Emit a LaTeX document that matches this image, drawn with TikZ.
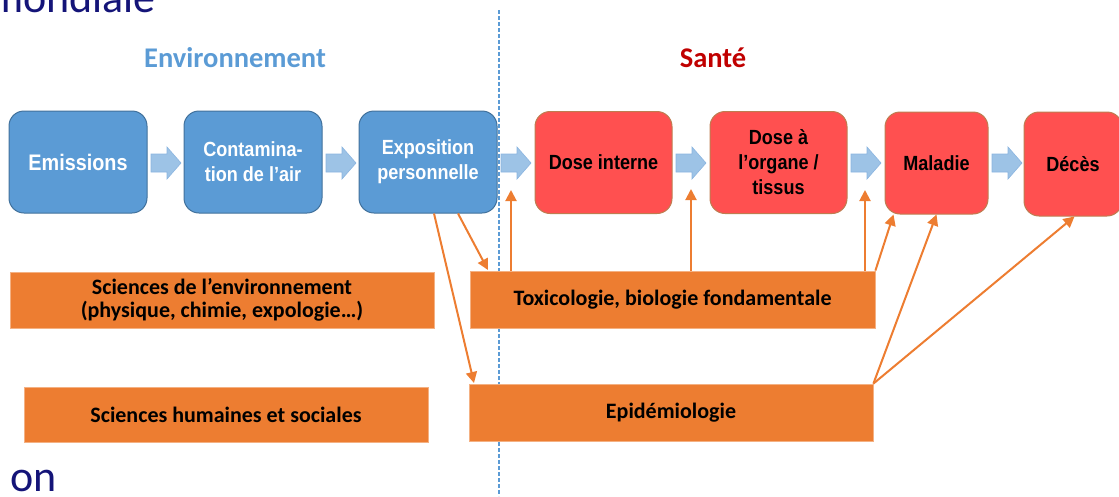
\documentclass[tikz,border=0pt]{standalone}
\usepackage{fontspec}
\setmainfont{Carlito}
\newfontfamily\arialfont[FakeStretch=0.88]{Liberation Sans}
\usetikzlibrary{arrows.meta,calc}
\definecolor{boxblue}{HTML}{5B9BD5}
\definecolor{boxblueline}{HTML}{41719C}
\definecolor{boxred}{HTML}{FF5050}
\definecolor{boxredline}{RGB}{190,125,80}
\definecolor{orng}{HTML}{ED7D31}
\definecolor{orngline}{HTML}{F4B183}
\definecolor{chevfill}{HTML}{9DC3E6}
\definecolor{chevline}{HTML}{8AB4E0}
\definecolor{navytext}{RGB}{20,20,120}
\definecolor{santecol}{HTML}{C00000}
\definecolor{dashcol}{RGB}{91,155,213}
\begin{document}
\begin{tikzpicture}[x=1pt,y=-1pt,
 stepbox/.style={rounded corners=15pt, line width=1pt, minimum height=102pt, align=center, font=\arialfont\bfseries\fontsize{20.5}{25}\selectfont, inner sep=0pt},
 bluebox/.style={stepbox, fill=boxblue, draw=boxblueline, text=white, minimum width=138pt},
 redbox/.style={stepbox, fill=boxred, draw=boxredline, text=black},
 discbox/.style={fill=orng, draw=orngline, line width=0.8pt, minimum height=56pt, align=center, font=\bfseries\fontsize{22}{23}\selectfont, inner sep=0pt},
 link/.style={draw=orng, line width=2pt, -{Triangle[length=11pt,width=11pt]}},
 chevron/.style={fill=chevfill, draw=chevline, line width=0.6pt},
 titletext/.style={font=\bfseries\fontsize{28.5}{32}\selectfont, anchor=base, inner sep=0pt},
 partial/.style={text=navytext, font=\fontsize{44}{50}\selectfont, anchor=base east, inner sep=0pt},
 chev/.pic={\path[chevron] (0,-9) -- (16,-9) -- (16,-16) -- (30,0) -- (16,16) -- (16,9) -- (0,9) -- cycle;}
]
\useasboundingbox (0,0) rectangle (1119,496);
\clip (0,0) rectangle (1119,496);

% partial slide texts
\node[partial] (mond) at (156,12) {mondiale};
\node[partial] (onn) at (57,491) {on};

% separator
\draw[dashcol, line width=1.2pt, dash pattern=on 4pt off 2pt] (499,10) -- (499,496);

% titles
\node[titletext, text=boxblue] (envt) at (235,67) {Environnement};
\node[titletext, text=santecol] (sant) at (713,67) {Santé};

% chain boxes
\node[bluebox, font=\arialfont\bfseries\fontsize{22.5}{25}\selectfont] (emi) at (78,162) {Emissions};
\node[bluebox] (con) at (253,162) {Contamina-\\tion de l’air};
\node[bluebox] (exp) at (428,162) {Exposition\\personnelle};
\node[redbox, minimum width=137pt] (din) at (603.5,162.5) {Dose interne};
\node[redbox, minimum width=137pt] (dorg) at (778.5,162.5) {Dose à\\l’organe /\\tissus};
\node[redbox, minimum width=103pt] (mal) at (936.5,163) {Maladie};
\node[redbox, minimum width=98pt, minimum height=104pt] (dec) at (1073,164) {Décès};

% chevrons
\pic at (151,163) {chev};
\pic at (326,163) {chev};
\pic at (501,163) {chev};
\pic at (676,163) {chev};
\pic at (851,163) {chev};
\pic at (992,163) {chev};

% discipline boxes
\node[discbox, minimum width=424pt] (senv) at (222,300) {Sciences de l’environnement\\(physique, chimie, expologie…)};
\node[discbox, minimum width=404pt, minimum height=55pt] (shum) at (226,414.5) {Sciences humaines et sociales};
\node[discbox, minimum width=405pt, minimum height=57pt] (tox) at (672.5,299.5) {Toxicologie, biologie fondamentale};
\node[discbox, minimum width=404pt, minimum height=57pt] (epi) at (671,412.5) {Epidémiologie};

% links
\coordinate (t1) at (488,270);
\coordinate (t2) at (474,383);
\coordinate (u1) at (511,190);
\coordinate (u2) at (691,189);
\coordinate (u3) at (865,190);
\draw[link] ($(exp.south)+(30,0)$) -- (t1);
\draw[link] ($(exp.south)+(6,0)$) -- (t2);
\draw[link] (tox.north -| u1) -- (u1);
\draw[link] (tox.north -| u2) -- (u2);
\draw[link] (tox.north -| u3) -- (u3);
\draw[link] (tox.north east) -- ($(mal.south west)+(9,0)$);
\draw[link] (epi.north east) -- (mal.south);
\draw[link] (epi.north east) -- ($(dec.south west)+(51,0)$);
\end{tikzpicture}
\end{document}
